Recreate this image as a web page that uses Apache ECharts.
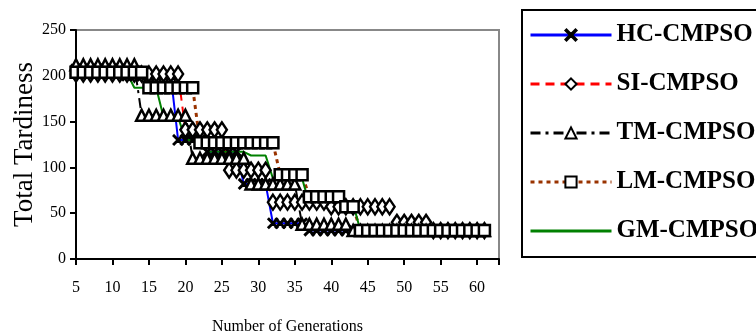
<!DOCTYPE html>
<html>
<head>
<meta charset="utf-8">
<script src="https://cdn.jsdelivr.net/npm/echarts@6/dist/echarts.min.js"></script>
<style>html,body{margin:0;padding:0;background:#fff;}#c{width:756px;height:336px;}</style>
</head>
<body>
<div id="c"></div>
<script>
var gens = [5,6,7,8,9,10,11,12,13,14,15,16,17,18,19,20,21,22,23,24,25,26,27,28,29,30,31,32,33,34,35,36,37,38,39,40,41,42,43,44,45,46,47,48,49,50,51,52,53,54,55,56,57,58,59,60,61];
var hc = [207,207,207,207,207,207,207,200,200,200,200,200,200,200,130,130,130,130,117,117,117,117,117,82,82,82,82,39,39,39,39,39,31,31,31,31,31,31,31,31,31,31,31,31,31,31,31,31,31,31,31,31,31,31,31,31,31];
var si = [202,202,202,202,202,202,202,202,202,202,202,202,202,202,202,141,141,141,141,141,141,97,97,97,97,97,97,62,62,62,62,62,62,62,62,57,57,57,57,57,57,57,57,57,40,40,40,40,40,31,31,31,31,31,31,31,31];
var tm = [212,212,212,212,212,212,212,212,212,157,157,157,157,157,157,157,110,110,110,110,110,110,110,110,82,82,82,82,82,82,82,38,38,38,38,38,38,38,31,31,31,31,31,31,31,31,31,31,31,31,31,31,31,31,31,31,31];
var lm = [204,204,204,204,204,204,204,204,204,204,187,187,187,187,187,187,187,127,127,127,127,127,127,127,127,127,127,127,92,92,92,92,68,68,68,68,68,57,57,31,31,31,31,31,31,31,31,31,31,31,31,31,31,31,31,31,31];
var gm = [203,203,203,203,203,203,203,203,187,187,187,187,155,155,155,130,130,130,117,117,117,117,117,117,113,113,113,88,88,88,88,88,60,60,60,60,60,60,60,31,31,31,31,31,31,31,31,31,31,31,31,31,31,31,31,31,31];
var seriesNames = ['HC-CMPSO','SI-CMPSO','TM-CMPSO','LM-CMPSO','GM-CMPSO'];
var yTicks = [0,50,100,150,200,250];
var xTicks = [5,10,15,20,25,30,35,40,45,50,55,60];

function pairs(v){ return gens.map(function(g,i){ return [g, v[i]]; }); }
var starPath = 'path://M1,0L5,4L9,0L10,1L6,5L10,9L9,10L5,6L1,10L0,9L4,5L0,1Z';
var font = 'Liberation Serif';
var chart = echarts.init(document.getElementById('c'), null, {renderer:'canvas'});
var option = {
  animation: false,
  backgroundColor: '#ffffff',
  grid: {left: 76, top: 30, right: 257, bottom: 77, show: true, borderColor: '#888888', borderWidth: 2, backgroundColor: 'transparent', outerBoundsMode: 'none', containLabel: false},
  legend: {
    orient: 'vertical', left: 522, top: 10,
    padding: [12, 10, 13, 7],
    borderColor: '#000', borderWidth: 2, backgroundColor: '#fff',
    itemWidth: 81, itemHeight: 14, itemGap: 23,
    lineStyle: {width: 3},
    textStyle: {fontFamily: font, fontWeight: 'bold', fontSize: 25, color: '#000', lineHeight: 26},
    data: [
      {name: seriesNames[0]}, {name: seriesNames[1]}, {name: seriesNames[2]}, {name: seriesNames[3]},
      {name: seriesNames[4], itemStyle: {opacity: 0}}
    ]
  },
  xAxis: {
    type: 'value', min: 5, max: 63, interval: 5,
    name: 'Number of Generations', nameLocation: 'middle', nameGap: 60, nameMoveOverlap: false,
    nameTextStyle: {fontFamily: font, fontSize: 16, color: '#000'},
    axisLine: {show: true, lineStyle: {color: '#000', width: 2}},
    axisTick: {show: true, length: 6, lineStyle: {color: '#000', width: 2}},
    axisLabel: {fontFamily: font, fontSize: 16, color: '#000', margin: 21,
      formatter: function(v){ return xTicks.indexOf(v) >= 0 ? String(v) : ''; }},
    splitLine: {show: false}
  },
  yAxis: {
    type: 'value', min: 0, max: 250, interval: 50,
    name: 'Total Tardiness', nameLocation: 'middle', nameGap: 38, nameMoveOverlap: false,
    nameTextStyle: {fontFamily: font, fontSize: 27, color: '#000'},
    axisLine: {show: true, lineStyle: {color: '#000', width: 2}},
    axisTick: {show: true, length: 6, lineStyle: {color: '#000', width: 2}},
    axisLabel: {fontFamily: font, fontSize: 16, color: '#000', margin: 10,
      formatter: function(v){ return yTicks.indexOf(v) >= 0 ? String(v) : ''; }},
    splitLine: {show: false}
  },
  series: [
    {name: seriesNames[0], type: 'line', data: pairs(hc), symbol: starPath, symbolSize: 10,
     lineStyle: {color: '#0000ff', width: 2, type: 'solid'},
     itemStyle: {color: '#000', borderColor: '#000', borderWidth: 1.5}},
    {name: seriesNames[1], type: 'line', data: pairs(si), symbol: 'diamond', symbolSize: [10, 15],
     lineStyle: {color: '#ff0000', width: 2, type: [9, 6]},
     itemStyle: {color: '#fff', borderColor: '#000', borderWidth: 2.5}},
    {name: seriesNames[2], type: 'line', data: pairs(tm), symbol: 'triangle', symbolSize: 11,
     lineStyle: {color: '#000', width: 2, type: [10, 5, 3, 5]},
     itemStyle: {color: '#fff', borderColor: '#000', borderWidth: 2.5}},
    {name: seriesNames[3], type: 'line', data: pairs(lm), symbol: 'rect', symbolSize: 11,
     lineStyle: {color: '#993300', width: 3, type: [4, 4]},
     itemStyle: {color: '#fff', borderColor: '#000', borderWidth: 2.5}},
    {name: seriesNames[4], type: 'line', data: pairs(gm), symbol: 'none', showSymbol: false,
     lineStyle: {color: '#008000', width: 2, type: 'solid'},
     itemStyle: {color: '#008000'}}
  ]
};
chart.setOption(option);
</script>
</body>
</html>
